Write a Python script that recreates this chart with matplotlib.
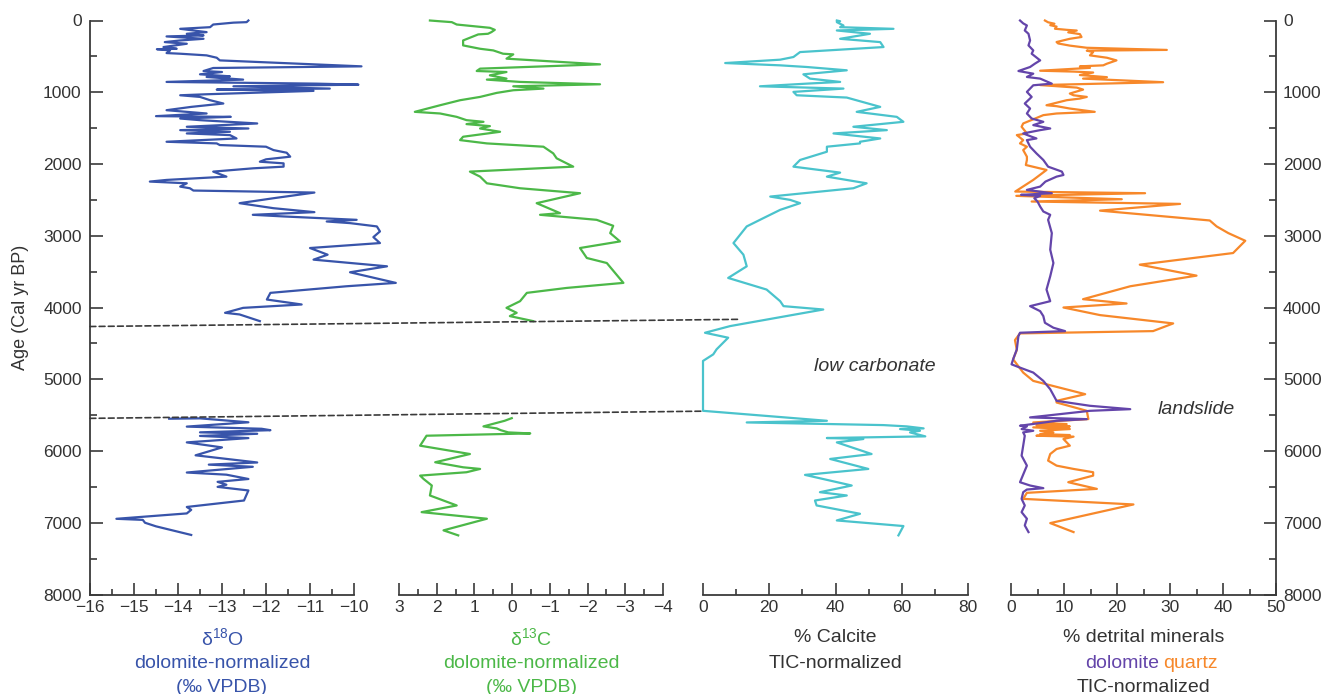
import matplotlib
matplotlib.use("Agg")
import matplotlib.pyplot as plt
from matplotlib.patches import ConnectionPatch
from matplotlib.ticker import MultipleLocator

plt.rcParams['font.family'] = ['Liberation Sans', 'DejaVu Sans']
plt.rcParams['mathtext.fontset'] = 'custom'
plt.rcParams['mathtext.rm'] = 'Liberation Sans'
plt.rcParams['mathtext.it'] = 'Liberation Sans:italic'

# ---- d18O (dolomite-normalized), upper and lower core sections ----
d18o_age_top = [0, 23, 30, 56, 93, 116, 162, 185, 208, 222, 255, 278, 301, 324, 370, 394, 400, 417,
                454, 463, 486, 519, 556, 639, 662, 704, 718, 750, 778, 787, 824, 856, 880, 894,
                917, 949, 963, 981, 1028, 1042, 1065, 1111, 1157, 1204, 1250, 1296, 1333, 1343,
                1366, 1389, 1435, 1481, 1505, 1528, 1551, 1574, 1597, 1644, 1690, 1713, 1736,
                1759, 1806, 1843, 1898, 1935, 1968, 1991, 2037, 2060, 2106, 2176, 2222, 2245,
                2269, 2315, 2338, 2370, 2398, 2477, 2546, 2616, 2671, 2708, 2731, 2778, 2801,
                2824, 2870, 2940, 3019, 3102, 3171, 3264, 3333, 3426, 3509, 3657, 3704, 3796,
                3889, 3958, 4005, 4074, 4097, 4190]
d18o_top = [-12.40, -12.44, -12.74, -13.20, -13.27, -13.95, -13.35, -13.80, -13.42, -14.26, -13.42,
            -13.95, -14.30, -13.80, -14.33, -14.03, -14.48, -14.18, -14.26, -13.95, -13.35, -13.12,
            -13.05, -9.83, -13.20, -13.42, -13.00, -13.50, -12.82, -13.35, -12.52, -14.26, -10.85,
            -9.90, -12.74, -10.55, -13.12, -10.92, -13.35, -13.95, -13.50, -13.27, -12.97, -13.70,
            -14.26, -13.35, -14.50, -12.80, -13.95, -13.50, -12.20, -13.80, -12.40, -13.95, -12.82,
            -13.80, -12.82, -12.67, -14.26, -13.12, -13.05, -12.00, -11.83, -11.53, -11.45, -12.00,
            -12.14, -11.60, -11.60, -12.29, -13.20, -12.90, -14.26, -14.64, -13.80, -13.95, -13.73,
            -13.65, -10.90, -11.83, -12.60, -11.83, -10.90, -12.30, -11.60, -9.94, -10.62, -10.09,
            -9.48, -9.41, -9.56, -9.41, -11.00, -10.60, -10.92, -9.25, -10.09, -9.05, -10.17,
            -11.90, -11.98, -11.19, -12.52, -12.93, -12.60, -12.14]
d18o_age_bot = [5550, 5545, 5600, 5660, 5690, 5710, 5740, 5760, 5790, 5820, 5880, 5950, 6060, 6160,
                6190, 6220, 6300, 6330, 6390, 6430, 6470, 6500, 6550, 6690, 6780, 6820, 6870,
                6945, 6960, 7000, 7050, 7170]
d18o_bot = [-14.2, -13.5, -12.4, -13.8, -12.1, -11.9, -13.5, -12.2, -13.5, -12.4, -13.8, -13.0,
            -13.6, -12.2, -13.3, -12.3, -13.8, -12.9, -12.4, -13.1, -12.9, -13.1, -12.4, -12.5,
            -13.8, -13.7, -13.8, -15.4, -14.8, -14.75, -14.5, -13.7]

# ---- d13C (dolomite-normalized) ----
d13c_age_top = [0, 9, 23, 56, 102, 130, 162, 185, 194, 278, 347, 394, 417, 463, 472, 532, 611,
                671, 704, 718, 764, 810, 824, 856, 889, 917, 949, 972, 1009, 1065, 1111, 1181,
                1273, 1296, 1343, 1389, 1412, 1444, 1472, 1505, 1551, 1620, 1667, 1713, 1759,
                1852, 1921, 2037, 2106, 2176, 2269, 2338, 2407, 2546, 2685, 2708, 2778, 2861,
                2963, 3079, 3171, 3310, 3380, 3657, 3727, 3796, 3912, 4005, 4074, 4120, 4190]
d13c_top = [2.18, 1.96, 1.60, 1.47, 0.59, 0.46, 0.55, 0.64, 0.90, 1.30, 1.30, 0.85, 0.50, 0.24,
            -0.03, 0.15, -2.33, 0.85, 0.94, 0.15, 0.59, 0.15, 0.67, -0.21, -2.33, -0.03, -0.83,
            -0.03, 0.41, 0.85, 1.38, 1.91, 2.58, 1.91, 1.47, 1.21, 0.76, 1.21, 0.59, 0.85, 0.32,
            1.30, 1.38, 0.67, -0.83, -1.09, -1.18, -1.62, 1.12, 0.85, 0.67, -0.21, -1.80, -0.65,
            -1.27, -0.74, -2.24, -2.68, -2.60, -2.86, -1.80, -1.98, -2.51, -2.95, -1.45, -0.39,
            -0.21, 0.15, -0.12, 0.06, -0.56]
d13c_age_bot = [5542, 5579, 5657, 5685, 5710, 5741, 5755, 5787, 5926, 6042, 6157, 6227, 6250, 6296,
                6343, 6389, 6481, 6620, 6759, 6852, 6944, 7106, 7176]
d13c_bot = [0.01, 0.20, 0.76, 0.41, 0.30, 0.10, -0.48, 2.27, 2.44, 1.12, 2.04, 1.30, 0.85, 1.21,
            2.44, 2.35, 2.13, 2.18, 1.47, 2.40, 0.67, 1.82, 1.43]

# ---- % calcite (TIC-normalized) ----
calcite_age = [0, 10, 23, 69, 93, 116, 139, 185, 255, 301, 370, 440, 509, 546, 593, 625, 648, 694,
               750, 810, 856, 880, 917, 949, 995, 1042, 1074, 1204, 1273, 1343, 1412, 1481, 1528,
               1574, 1644, 1690, 1713, 1759, 1829, 1944, 2037, 2120, 2176, 2269, 2338, 2454, 2500,
               2546, 2639, 2755, 2870, 3102, 3264, 3426, 3588, 3750, 3912, 3981, 4028, 4259, 4352,
               4421, 4583, 4653, 4745, 5440, 5579, 5602, 5639, 5657, 5685, 5694, 5718, 5741, 5796,
               5819, 5833, 5880, 6042, 6111, 6250, 6333, 6481, 6574, 6620, 6690, 6759, 6875, 6968,
               7046, 7176]
calcite = [40.4, 41.4, 40.4, 42.4, 41.4, 57.5, 40.4, 50.4, 41.4, 53.5, 54.5, 29.3, 27.3, 23.3, 6.7,
           23.3, 31.3, 43.4, 30.3, 32.3, 41.4, 31.3, 17.2, 42.4, 27.3, 28.3, 43.4, 53.5, 46.4, 58.5,
           60.5, 45.4, 55.5, 39.4, 53.5, 47.4, 47.4, 37.4, 37.4, 29.3, 27.3, 41.4, 37.4, 49.4, 45.4,
           20.3, 26.3, 29.3, 23.3, 18.2, 13.2, 9.2, 12.2, 13.2, 7.6, 19.2, 23.3, 24.3, 36.3, 8.2,
           0.6, 7.6, 4.1, 3.1, 0.0, 0.0, 37.4, 13.2, 54.5, 61.5, 66.6, 59.5, 65.5, 62.5, 67.1, 37.4,
           48.4, 40.4, 50.9, 38.4, 49.9, 30.8, 44.9, 35.3, 43.4, 33.8, 34.3, 47.4, 40.4, 60.5, 59.0]

# ---- % detrital minerals (TIC-normalized) ----
dolomite_age = [0, 40, 69, 139, 185, 278, 347, 417, 463, 556, 602, 648, 704, 741, 787, 810, 880,
                903, 949, 995, 1065, 1157, 1227, 1296, 1366, 1412, 1458, 1505, 1528, 1574, 1620,
                1644, 1667, 1759, 1852, 1944, 2037, 2106, 2153, 2176, 2245, 2315, 2361, 2407, 2430,
                2444, 2477, 2523, 2593, 2662, 2708, 2778, 2963, 3194, 3380, 3565, 3750, 3912, 3981,
                4051, 4120, 4213, 4282, 4329, 4352, 4398, 4583, 4722, 4792, 4838, 4907, 5023, 5139,
                5301, 5370, 5417, 5440, 5532, 5556, 5579, 5648, 5657, 5694, 5718, 5741, 5787, 5926,
                6065, 6204, 6435, 6481, 6518, 6537, 6574, 6667, 6759, 6852, 6944, 7037, 7130]
dolomite = [1.7, 2.3, 3.0, 2.6, 3.3, 3.6, 3.3, 4.2, 3.9, 5.5, 4.5, 3.6, 1.4, 4.2, 3.0, 5.5, 7.7, 4.2,
            3.6, 3.0, 3.9, 2.6, 3.6, 3.0, 3.9, 6.1, 4.2, 7.4, 5.5, 2.3, 3.9, 4.8, 3.0, 3.6, 4.8, 6.1,
            7.0, 9.6, 9.9, 8.6, 6.5, 5.5, 3.0, 7.7, 1.9, 5.5, 4.4, 5.0, 5.5, 6.1, 7.4, 7.0, 7.7, 7.4,
            8.0, 7.4, 6.7, 7.4, 3.6, 5.5, 6.1, 6.4, 8.0, 10.2, 1.7, 1.4, 1.1, 0.4, 0.1, 1.7, 4.2, 6.1,
            7.4, 8.6, 14.9, 22.5, 14.9, 3.6, 14.3, 8.6, 1.7, 3.0, 2.0, 4.2, 2.3, 2.6, 2.3, 2.0, 3.0,
            1.7, 3.6, 6.1, 3.0, 2.3, 2.0, 2.6, 2.0, 3.0, 2.6, 3.3]
quartz_age = [0, 25, 45, 65, 85, 115, 130, 140, 165, 190, 230, 255, 300, 320, 350, 380, 410, 420,
              440, 486, 519, 556, 602, 625, 639, 660, 700, 712, 725, 760, 790, 810, 860, 900, 935,
              963, 1018, 1042, 1065, 1088, 1111, 1181, 1194, 1227, 1273, 1296, 1319, 1435, 1481,
              1574, 1597, 1667, 1713, 1759, 1806, 1898, 1944, 2014, 2083, 2222, 2384, 2407, 2444,
              2491, 2523, 2556, 2650, 2787, 2870, 2963, 3070, 3241, 3403, 3556, 3704, 3884, 3944,
              4000, 4106, 4222, 4329, 4361, 4454, 4593, 4722, 4907, 5023, 5208, 5301, 5324, 5440,
              5555, 5602, 5625, 5640, 5657, 5671, 5694, 5718, 5741, 5764, 5778, 5787, 5800, 5833,
              5926, 5972, 6042, 6134, 6204, 6250, 6296, 6343, 6435, 6528, 6583, 6667, 6745, 7005,
              7130]
quartz = [6.4, 7.0, 8.2, 7.4, 8.6, 8.3, 10.5, 12.4, 10.8, 13.0, 13.3, 11.1, 8.6, 8.9, 11.1, 14.3,
          29.4, 14.3, 15.5, 14.9, 18.1, 19.9, 18.1, 17.4, 13.0, 14.9, 5.5, 11.8, 15.5, 13.0, 18.1,
          13.6, 28.7, 5.5, 12.4, 13.6, 11.1, 11.8, 14.3, 13.0, 10.5, 6.7, 8.6, 11.1, 15.8, 8.6, 6.1,
          2.3, 2.0, 3.0, 1.1, 2.3, 1.7, 3.0, 2.3, 3.0, 3.0, 2.8, 6.7, 4.2, 0.8, 25.3, 1.0, 20.9, 3.9,
          31.9, 16.8, 37.5, 38.8, 41.0, 44.2, 41.9, 24.3, 35.0, 22.5, 13.6, 21.8, 9.9, 16.8, 30.6,
          26.8, 1.7, 0.75, 1.1, 0.4, 2.3, 4.2, 14.0, 8.6, 8.6, 14.3, 14.6, 4.2, 10.5, 4.8, 11.1,
          4.2, 11.1, 5.5, 8.0, 5.5, 11.1, 4.8, 11.8, 9.9, 11.1, 8.6, 7.4, 7.0, 8.6, 11.8, 15.5,
          15.5, 10.8, 16.2, 3.0, 2.3, 23.1, 7.4, 11.8]

BLUE = '#3854aa'
GREEN = '#4cb848'
CYAN = '#4ac3cc'
PURPLE = '#6445aa'
ORANGE = '#f7882a'
AXC = '#3a3a3a'
TXT = '#333333'

W, H = 1333, 694
fig = plt.figure(figsize=(W / 100, H / 100), dpi=100)

bottom = 1 - 594.5 / H
height = (594.5 - 20.5) / H
panels = [(90, 354), (399, 663), (703, 968), (1011, 1276)]
axes = [fig.add_axes([x0 / W, bottom, (x1 - x0) / W, height]) for x0, x1 in panels]
ax1, ax2, ax3, ax4 = axes

for ax in axes:
    ax.set_ylim(8000, 0)
    for s in ax.spines.values():
        s.set_visible(False)
        s.set_color(AXC)
        s.set_linewidth(1.3)
    ax.spines['bottom'].set_visible(True)
    ax.patch.set_visible(False)
    ax.tick_params(axis='x', which='both', direction='in', colors=AXC, labelcolor=TXT,
                   labelsize=12.5, pad=4, width=1.2)
    ax.tick_params(axis='x', which='major', length=8.5)
    ax.tick_params(axis='x', which='minor', length=4.5)
    ax.tick_params(axis='y', which='both', left=False, right=False, labelleft=False)

lw = 1.6
ax1.plot(d18o_top, d18o_age_top, color=BLUE, lw=lw, clip_on=False)
ax1.plot(d18o_bot, d18o_age_bot, color=BLUE, lw=lw, clip_on=False)
ax1.set_xlim(-16, -10)
ax1.xaxis.set_major_locator(MultipleLocator(1))
ax1.xaxis.set_minor_locator(MultipleLocator(0.5))
ax1.spines['left'].set_visible(True)
ax1.yaxis.set_major_locator(MultipleLocator(1000))
ax1.yaxis.set_minor_locator(MultipleLocator(500))
ax1.tick_params(axis='y', which='both', left=True, labelleft=True, direction='in', colors=AXC,
                labelcolor=TXT, labelsize=12.5, pad=6, width=1.2)
ax1.tick_params(axis='y', which='major', length=9)
ax1.tick_params(axis='y', which='minor', length=5)
ax1.set_ylabel('Age (Cal yr BP)', fontsize=13, color=TXT, labelpad=10)

ax2.plot(d13c_top, d13c_age_top, color=GREEN, lw=lw, clip_on=False)
ax2.plot(d13c_bot, d13c_age_bot, color=GREEN, lw=lw, clip_on=False)
ax2.set_xlim(3, -4)
ax2.xaxis.set_major_locator(MultipleLocator(1))
ax2.xaxis.set_minor_locator(MultipleLocator(0.5))

ax3.plot(calcite, calcite_age, color=CYAN, lw=lw, clip_on=False)
ax3.set_xlim(0, 80)
ax3.xaxis.set_major_locator(MultipleLocator(20))
ax3.xaxis.set_minor_locator(MultipleLocator(10))
ax3.text(52, 4820, 'low carbonate', style='italic', fontsize=14, color=TXT,
         ha='center', va='center')

ax4.plot(quartz, quartz_age, color=ORANGE, lw=lw, clip_on=False)
ax4.plot(dolomite, dolomite_age, color=PURPLE, lw=lw, clip_on=False)
ax4.set_xlim(0, 50)
ax4.xaxis.set_major_locator(MultipleLocator(10))
ax4.xaxis.set_minor_locator(MultipleLocator(5))
ax4.spines['right'].set_visible(True)
ax4.yaxis.set_major_locator(MultipleLocator(1000))
ax4.yaxis.set_minor_locator(MultipleLocator(500))
ax4.tick_params(axis='y', which='both', right=True, labelright=True, direction='in', colors=AXC,
                labelcolor=TXT, labelsize=12.5, pad=5, width=1.2)
ax4.tick_params(axis='y', which='major', length=9)
ax4.tick_params(axis='y', which='minor', length=5)
ax4.text(34.9, 5417, 'landslide', style='italic', fontsize=14, color=TXT,
         ha='center', va='center')

# dashed correlation lines across panels
for a_start, x_end, a_end in [(4265, 10.6, 4165), (5545, 0, 5445)]:
    con = ConnectionPatch(xyA=(-16, a_start), coordsA=ax1.transData,
                          xyB=(x_end, a_end), coordsB=ax3.transData,
                          color=AXC, lw=1.2, linestyle=(0, (3.5, 2.0)))
    fig.add_artist(con)

# axis titles below the panels
def fy(py):
    return 1 - py / H

def cx(i):
    x0, x1 = panels[i]
    return (x0 + x1) / 2 / W

fs = 14
fig.text(cx(0), fy(638), r'δ$^{\mathrm{18}}$O', color=BLUE, fontsize=fs, ha='center', va='center')
fig.text(cx(0), fy(663), 'dolomite-normalized', color=BLUE, fontsize=fs, ha='center', va='center')
fig.text(cx(0), fy(687), '(‰ VPDB)', color=BLUE, fontsize=fs, ha='center', va='center')

fig.text(cx(1), fy(638), r'δ$^{\mathrm{13}}$C', color=GREEN, fontsize=fs, ha='center', va='center')
fig.text(cx(1), fy(663), 'dolomite-normalized', color=GREEN, fontsize=fs, ha='center', va='center')
fig.text(cx(1), fy(687), '(‰ VPDB)', color=GREEN, fontsize=fs, ha='center', va='center')

fig.text(cx(2), fy(638), '% Calcite', color=TXT, fontsize=fs, ha='center', va='center')
fig.text(cx(2), fy(663), 'TIC-normalized', color=TXT, fontsize=fs, ha='center', va='center')

fig.text(cx(3), fy(638), '% detrital minerals', color=TXT, fontsize=fs, ha='center', va='center')
fig.text(1159 / W, fy(663), 'dolomite', color=PURPLE, fontsize=fs, ha='right', va='center')
fig.text(1163 / W, fy(663), 'quartz', color=ORANGE, fontsize=fs, ha='left', va='center')
fig.text(cx(3), fy(687), 'TIC-normalized', color=TXT, fontsize=fs, ha='center', va='center')

fig.savefig('out.png', dpi=100)
